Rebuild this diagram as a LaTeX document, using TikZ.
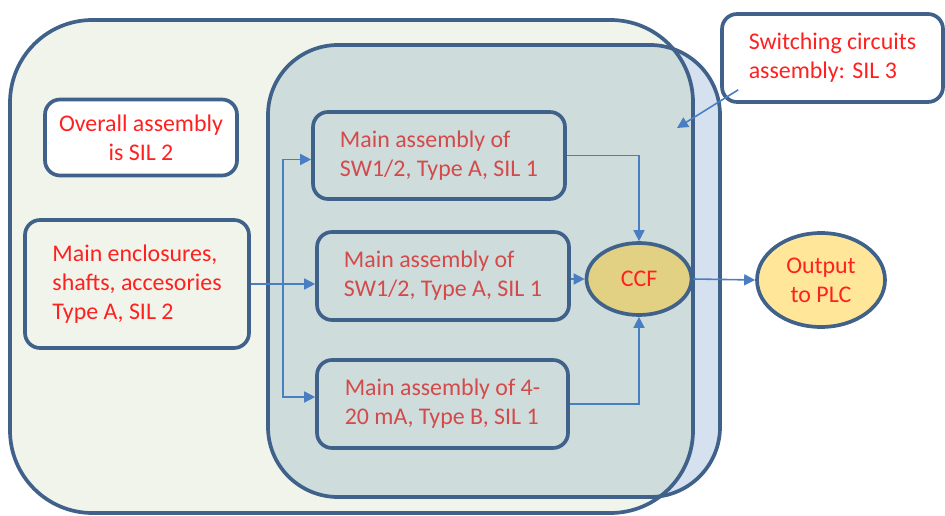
\documentclass[tikz,border=0pt]{standalone}
\usepackage{fontspec}
\setmainfont{Carlito}
\usetikzlibrary{arrows.meta, positioning, shapes.geometric, calc}
\definecolor{cpale}{HTML}{F0F4EA}
\definecolor{cgreyblue}{HTML}{CEDCDC}
\definecolor{clightblue}{HTML}{D5E1EF}
\definecolor{cedge}{HTML}{3F618A}
\definecolor{carrow}{HTML}{4A7EC2}
\definecolor{cred}{HTML}{FF2020}
\definecolor{cdullred}{HTML}{D44A4A}
\definecolor{cccf}{HTML}{E2D183}
\definecolor{cplc}{HTML}{FFE699}
\tikzset{
  label font/.style={font=\fontsize{13.6}{16.5}\selectfont},
  box/.style={draw=cedge, fill=#1, line width=2.1pt, rounded corners=0.3cm, align=left, inner sep=2pt, label font, text=cred},
  box/.default=white,
  inbox/.style={box=cgreyblue, text=cdullred},
  blob/.style={ellipse, draw=cedge, fill=#1, line width=2.1pt, align=center, inner sep=1pt, label font, text=cred},
  frame/.style={draw=cedge, line width=2.1pt},
  arrow/.style={-{Triangle[length=0.22cm, width=0.22cm]}, draw=carrow, line width=0.9pt},
}

\begin{document}
\begin{tikzpicture}[x=0.02cm, y=-0.02cm]
  \useasboundingbox (0,0) rectangle (945,516);
  % the two assemblies
  \fill[clightblue, rounded corners=1.4cm] (268,45) rectangle (720,497);
  \fill[cpale, rounded corners=1.65cm] (10,20) rectangle (693,513);
  \begin{scope}
    \clip[rounded corners=1.65cm] (10,20) rectangle (693,513);
    \fill[cgreyblue, rounded corners=1.4cm] (268,45) rectangle (720,497);
  \end{scope}
  \draw[frame, rounded corners=1.65cm] (10,20) rectangle (693,513);
  \draw[frame, rounded corners=1.4cm] (268,45) rectangle (720,497);

  % blocks
  \node[box, align=center, minimum width=3.84cm, minimum height=1.52cm] (overall) at (141,137.5) {Overall assembly\\is SIL 2};
  \node[box=cpale, minimum width=4.48cm, minimum height=2.56cm] (encl) at (137,284) {Main enclosures,\\shafts, accesories\\Type A, SIL 2};
  \node[inbox, minimum width=5.04cm, minimum height=1.74cm] (sw1) at (439,155.5) {Main assembly of\\SW1/2, Type A, SIL 1};
  \node[inbox, minimum width=5.04cm, minimum height=1.76cm] (sw2) at (443,276) {Main assembly of\\SW1/2, Type A, SIL 1};
  \node[inbox, minimum width=5.02cm, minimum height=1.76cm] (ma) at (442.5,404) {Main assembly of 4-\\20 mA, Type B, SIL 1};
  \node[blob=cccf, minimum width=2.1cm, minimum height=1.44cm] (ccf) at (639,279) {CCF};
  \node[blob=cplc, minimum width=2.56cm, minimum height=1.88cm] (plc) at (821,280) {Output\\to PLC};
  \node[box, minimum width=4.42cm, minimum height=1.76cm] (switch) at (832.5,58) {Switching circuits\\assembly: SIL 3};

  % connections
  \coordinate (split) at (283,284);
  \coordinate (inner) at (677,128);
  \draw[arrow] (encl.east) -- (encl.east -| sw2.west);
  \draw[arrow] (split) |- ($(sw1.west)+(0,4)$);
  \draw[arrow] (split) |- ($(ma.west)+(0,-7)$);
  \draw[arrow] (sw1.east) -| (ccf.north);
  \draw[arrow] (sw2.east |- ccf.west) -- (ccf.west);
  \draw[arrow] (ma.east) -| (ccf.south);
  \draw[arrow] (ccf.east) -- (plc.west);
  \draw[arrow] ($(switch.south west)+(18,-14)$) -- (inner);
\end{tikzpicture}
\end{document}
